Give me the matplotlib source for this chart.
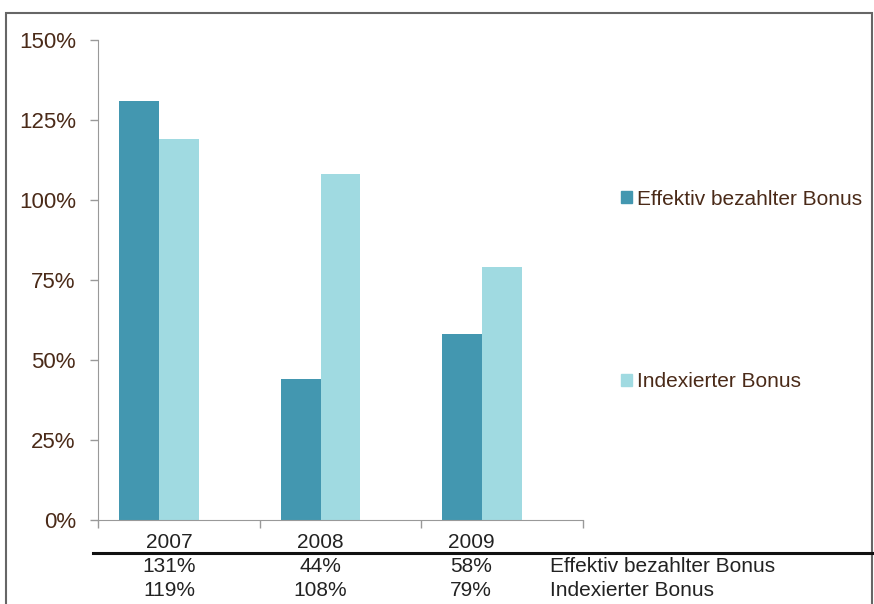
import matplotlib
matplotlib.use("Agg")
import matplotlib.pyplot as plt
from matplotlib.patches import Rectangle, Patch
from matplotlib.lines import Line2D
import numpy as np

years = ["2007", "2008", "2009"]
effektiv = [131, 44, 58]
indexiert = [119, 108, 79]
series_names = ["Effektiv bezahlter Bonus", "Indexierter Bonus"]
yticks = [0, 25, 50, 75, 100, 125, 150]

dark = "#4397b0"
light = "#a0dae1"
brown = "#4a2a18"
tabtxt = "#222222"

plt.rcParams['font.family'] = ['Liberation Sans', 'DejaVu Sans']

fig = plt.figure(figsize=(8.74, 6.04), dpi=100)
ax = fig.add_axes([98/874, 1-520/604, (583-98)/874, 480/604])

x = np.arange(len(years))
w = 0.247
# excel layout: a third (empty) slot sits right of the two bars
ax.bar(x - w, effektiv, w, color=dark, label=series_names[0])
ax.bar(x, indexiert, w, color=light, label=series_names[1])

ax.set_xlim(-0.5, len(years) - 0.5)
ax.set_ylim(0, 150)
ax.set_yticks(yticks)
ax.set_yticklabels([f"{v}%" for v in yticks], color=brown, fontsize=16)
ax.set_xticks(np.arange(len(years) + 1) - 0.5)
ax.set_xticklabels([])
ax.tick_params(axis='both', direction='out', length=6, color="#999999", width=1)
ax.tick_params(axis='y', pad=10)
for s in ["top", "right"]:
    ax.spines[s].set_visible(False)
for s in ["left", "bottom"]:
    ax.spines[s].set_color("#999999")

# data table under the chart (its own column spacing)
col_x = [169.5, 320, 471]
for i, yr in enumerate(years):
    cx = col_x[i] / 874
    fig.text(cx, 1-543/604, yr, ha='center', va='center',
             fontsize=15, color=tabtxt)
    fig.text(cx, 1-566/604, f"{effektiv[i]}%", ha='center',
             va='center', fontsize=15, color=tabtxt)
    fig.text(cx, 1-590/604, f"{indexiert[i]}%", ha='center',
             va='center', fontsize=15, color=tabtxt)
fig.text(550/874, 1-566/604, series_names[0], ha='left', va='center',
         fontsize=15, color=tabtxt)
fig.text(550/874, 1-590/604, series_names[1], ha='left', va='center',
         fontsize=15, color=tabtxt)
fig.add_artist(Line2D([93/874, 1.0], [1-553/604, 1-553/604], color="#111111",
                      lw=2.2, transform=fig.transFigure))

# legend
handles = [Patch(color=dark), Patch(color=light)]
fig.legend(handles, series_names, loc='center left',
           bbox_to_anchor=(621/874, 1-290.5/604), frameon=False,
           borderaxespad=0, borderpad=0,
           fontsize=15, labelcolor=brown, handlelength=0.53, handleheight=0.53,
           handletextpad=0.24, labelspacing=7.85)

# outer frame
fig.add_artist(Rectangle((6/874, -0.05), (872-6)/874, 1.05-13/604,
                         transform=fig.transFigure, fill=False,
                         edgecolor="#666666", lw=1.5))

fig.savefig("out.png", dpi=100)
